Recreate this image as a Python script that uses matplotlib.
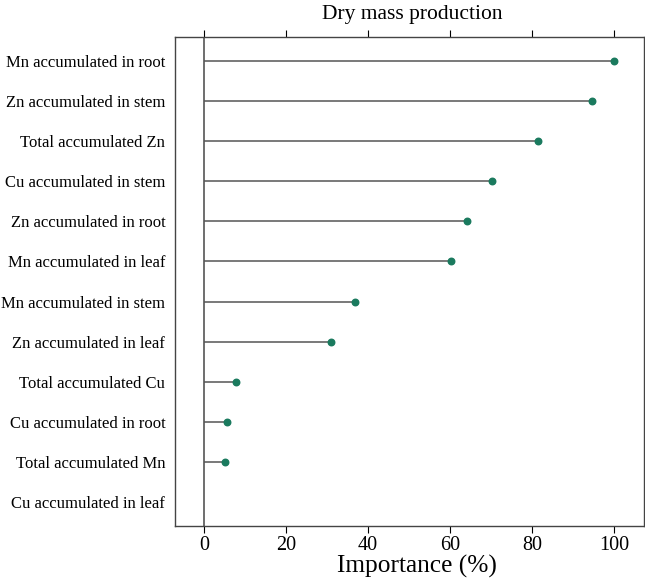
import matplotlib
matplotlib.use("Agg")
import matplotlib.pyplot as plt

# data
features = ["Mn accumulated in root", "Zn accumulated in stem", "Total accumulated Zn",
            "Cu accumulated in stem", "Zn accumulated in root", "Mn accumulated in leaf",
            "Mn accumulated in stem", "Zn accumulated in leaf", "Total accumulated Cu",
            "Cu accumulated in root", "Total accumulated Mn", "Cu accumulated in leaf"]
importance = [100, 94.6, 81.5, 70.2, 64.1, 60.2, 36.8, 31.0, 7.8, 5.6, 5.1, 0.0]
xticks = [0, 20, 40, 60, 80, 100]

plt.rcParams['font.family'] = ['Liberation Serif', 'DejaVu Serif']

fig = plt.figure(figsize=(6.45, 5.82), dpi=100)
ax = fig.add_axes([175/645, 1 - 526/582, (644 - 175)/645, (526 - 37)/582])

pos = list(range(len(features)))
ax.axvline(0, color="#555555", lw=1.2, zorder=1)
ax.hlines(pos, 0, importance, color="#555555", lw=1.1, zorder=2)
# last feature has zero importance: no dot drawn in the reference
ax.scatter(importance[:-1], pos[:-1], s=22, color="#1a7a5e", zorder=3)

ax.set_yticks(pos)
ax.set_yticklabels(features, fontsize=12.0)
ax.set_ylim(len(features) - 0.4, -0.6)
ax.set_xlim(-7.1, 107.3)
ax.set_xticks(xticks)
ax.tick_params(axis="x", labelsize=14.5, top=True, direction="out", length=5, pad=2)
ax.tick_params(axis="y", length=0, pad=7)
ax.set_xlabel("Importance (%)", fontsize=18.3, labelpad=0, x=0.515)
ax.set_title("Dry mass production", fontsize=15.5, pad=13, x=0.505)
for s in ax.spines.values():
    s.set_color("#444444")
    s.set_linewidth(1.0)

fig.savefig("out.png", dpi=100)
